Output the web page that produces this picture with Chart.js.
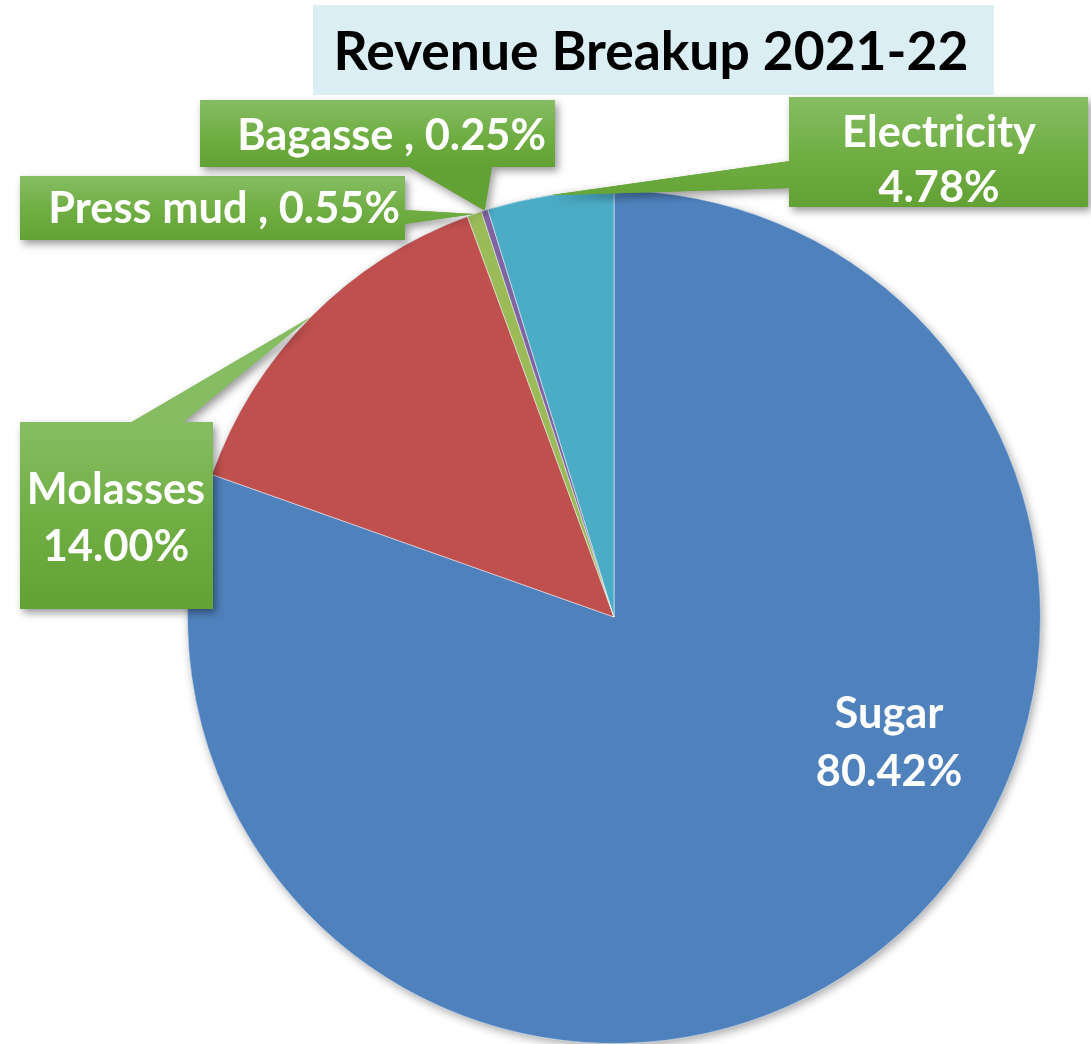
<!DOCTYPE html>
<html>
<head>
<meta charset="utf-8">
<script src="https://cdn.jsdelivr.net/npm/chart.js@4.4.0/dist/chart.umd.min.js"></script>
<style>
  html, body { margin: 0; padding: 0; background: #fff; }
</style>
</head>
<body>
<canvas id="grafico" width="1091" height="1044"></canvas>
<script>
// Datos del gráfico
const categorias = ['Sugar', 'Molasses', 'Press mud', 'Bagasse', 'Electricity'];
const porcentajes = [80.42, 14.00, 0.55, 0.25, 4.78];
const colores = ['#4F81BD', '#C0504D', '#9BBB59', '#8064A2', '#4BACC6'];
const titulo = 'Revenue Breakup 2021-22';

const familia = 'Lato, "Open Sans", sans-serif';

// Cajas de las etiquetas (posición y forma de la cola)
const cajas = [
    null, // Sugar va dentro de la porción
    { x: 20, y: 422, w: 193, h: 187, dosLineas: true, cx: 116, cy: [490, 547], cola: { lado: 'top', a: 130, b: 182 } },
    { x: 20, y: 176, w: 385, h: 64, dosLineas: false, derecha: 400, cy: [209], cola: { lado: 'right', a: 210, b: 224 } },
    { x: 200, y: 100, w: 355, h: 67, dosLineas: false, derecha: 546, cy: [136], cola: { lado: 'bottom', a: 408, b: 492 } },
    { x: 789, y: 97, w: 299, h: 110, dosLineas: true, cx: 939, cy: [133, 188], cola: { lado: 'left', a: 161, b: 188 } }
];

function textoEtiqueta(i) {
    const valor = porcentajes[i].toFixed(2) + '%';
    if (cajas[i] && !cajas[i].dosLineas) {
        return [categorias[i] + ' , ' + valor];
    }
    return [categorias[i], valor];
}

function tamanoFuente(ctx, texto, ancho) {
    ctx.font = 'bold 100px ' + familia;
    return 100 * ancho / ctx.measureText(texto).width;
}

function trazarCola(ctx, caja, punta) {
    const c = caja.cola;
    ctx.beginPath();
    if (c.lado === 'top') {
        ctx.moveTo(c.a, caja.y + 1); ctx.lineTo(punta.x, punta.y); ctx.lineTo(c.b, caja.y + 1);
    } else if (c.lado === 'bottom') {
        ctx.moveTo(c.a, caja.y + caja.h - 1); ctx.lineTo(punta.x, punta.y); ctx.lineTo(c.b, caja.y + caja.h - 1);
    } else if (c.lado === 'right') {
        ctx.moveTo(caja.x + caja.w - 1, c.a); ctx.lineTo(punta.x, punta.y); ctx.lineTo(caja.x + caja.w - 1, c.b);
    } else {
        ctx.moveTo(caja.x + 1, c.a); ctx.lineTo(punta.x, punta.y); ctx.lineTo(caja.x + 1, c.b);
    }
    ctx.closePath();
}

const pluginEtiquetas = {
    id: 'etiquetas',
    beforeDatasetsDraw(chart) {
        // Sombra suave del pastel
        const arco = chart.getDatasetMeta(0).data[0];
        const ctx = chart.ctx;
        ctx.save();
        ctx.shadowColor = 'rgba(0,0,0,0.35)';
        ctx.shadowBlur = 10;
        ctx.shadowOffsetX = 2;
        ctx.shadowOffsetY = 3;
        ctx.beginPath();
        ctx.arc(arco.x, arco.y, arco.outerRadius, 0, Math.PI * 2);
        ctx.fillStyle = colores[0];
        ctx.fill();
        ctx.restore();
    },
    afterDraw(chart) {
        const ctx = chart.ctx;
        const arcos = chart.getDatasetMeta(0).data;

        // Título
        ctx.save();
        ctx.fillStyle = '#DBEEF4';
        ctx.fillRect(313, 5, 681, 90);
        const tt = tamanoFuente(ctx, titulo, 635);
        ctx.font = 'bold ' + tt + 'px ' + familia;
        ctx.fillStyle = '#000';
        ctx.textAlign = 'center';
        ctx.textBaseline = 'middle';
        ctx.fillText(titulo, 651, 53);
        ctx.restore();

        const tam = (tamanoFuente(ctx, 'Electricity', 192) + tamanoFuente(ctx, 'Bagasse , 0.25%', 312)) / 2;

        // Etiquetas con cola
        cajas.forEach((caja, i) => {
            if (!caja) return;
            const arco = arcos[i];
            const medio = (arco.startAngle + arco.endAngle) / 2;
            const punta = {
                x: arco.x + Math.cos(medio) * arco.outerRadius,
                y: arco.y + Math.sin(medio) * arco.outerRadius
            };
            const grad = ctx.createLinearGradient(0, caja.y, 0, caja.y + caja.h);
            grad.addColorStop(0, '#86BD63');
            grad.addColorStop(0.5, '#71AF45');
            grad.addColorStop(1, '#62A133');

            ctx.save();
            ctx.shadowColor = 'rgba(0,0,0,0.4)';
            ctx.shadowBlur = 8;
            ctx.shadowOffsetX = 3;
            ctx.shadowOffsetY = 4;
            ctx.fillStyle = grad;
            ctx.fillRect(caja.x, caja.y, caja.w, caja.h);
            trazarCola(ctx, caja, punta);
            ctx.fill();
            ctx.restore();

            ctx.save();
            ctx.fillStyle = grad;
            ctx.fillRect(caja.x, caja.y, caja.w, caja.h);
            trazarCola(ctx, caja, punta);
            ctx.fill();

            ctx.fillStyle = '#fff';
            ctx.font = 'bold ' + tam + 'px ' + familia;
            ctx.textBaseline = 'middle';
            const lineas = textoEtiqueta(i);
            lineas.forEach((linea, k) => {
                if (caja.dosLineas) {
                    ctx.textAlign = 'center';
                    ctx.fillText(linea, caja.cx, caja.cy[k]);
                } else {
                    ctx.textAlign = 'right';
                    ctx.fillText(linea, caja.derecha, caja.cy[k]);
                }
            });
            ctx.restore();
        });

        // Etiqueta de Sugar dentro de la porción
        ctx.save();
        ctx.fillStyle = '#fff';
        ctx.font = 'bold ' + tam + 'px ' + familia;
        ctx.textAlign = 'center';
        ctx.textBaseline = 'middle';
        const ls = textoEtiqueta(0);
        ctx.fillText(ls[0], 889, 714);
        ctx.fillText(ls[1], 889, 772);
        ctx.restore();
    }
};

new Chart(document.getElementById('grafico').getContext('2d'), {
    type: 'pie',
    data: {
        labels: categorias,
        datasets: [{
            data: porcentajes,
            backgroundColor: colores,
            borderColor: 'rgba(255,255,255,0.5)',
            borderWidth: 1
        }]
    },
    options: {
        responsive: false,
        animation: false,
        layout: { padding: { left: 187, right: 50, top: 190, bottom: 0 } },
        plugins: {
            legend: { display: false },
            tooltip: { enabled: false }
        }
    },
    plugins: [pluginEtiquetas]
});
</script>
</body>
</html>
